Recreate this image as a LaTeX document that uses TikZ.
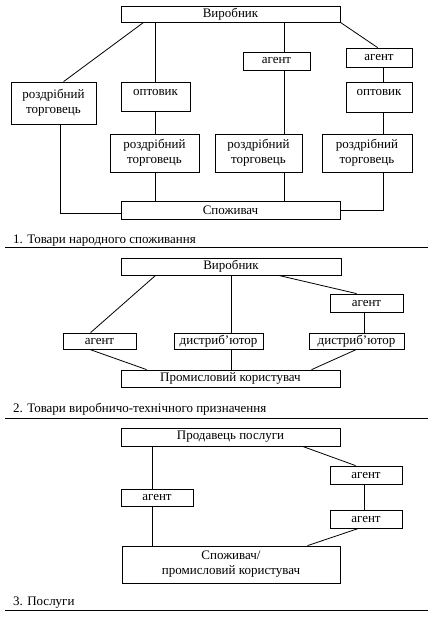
\documentclass[tikz,border=0pt]{standalone}
\usepackage{fontspec}
\setmainfont{Liberation Serif}
\begin{document}
\begin{tikzpicture}[x=1pt,y=-1pt,
  box/.style={draw,line width=0.8pt,inner sep=0pt,align=center,font=\fontsize{13}{15}\selectfont},
  caption/.style={anchor=base west,inner sep=0pt,font=\fontsize{13}{15}\selectfont},
  link/.style={line width=0.8pt},
  rule/.style={line width=1pt}]
\useasboundingbox (0,0) rectangle (435,620);
% guides
\coordinate (g60) at (60,0);
\coordinate (g155) at (155,0);
\coordinate (g284) at (284,0);
\coordinate (g383) at (383,0);
\coordinate (g231) at (231,0);
\coordinate (g364) at (364,0);
\coordinate (g152) at (152,0);
% ---------- section 1
\node[box,minimum width=219pt,minimum height=16pt] (P1) at (230.5,14) {Виробник};
\node[box,minimum width=85pt,minimum height=42pt] (R1) at (53.5,103) {роздрібний\\торговець};
\node[box,minimum width=69pt,text height=14pt,text depth=15pt] (O1) at (155.5,96.5) {оптовик};
\node[box,minimum width=67pt,minimum height=18pt] (A1) at (276.5,61) {агент};
\node[box,minimum width=66pt,minimum height=19pt] (A2) at (379,57.5) {агент};
\node[box,minimum width=66pt,text height=14pt,text depth=16pt] (O2) at (379,97) {оптовик};
\node[box,minimum width=89pt,minimum height=38pt] (R2) at (154.5,153) {роздрібний\\торговець};
\node[box,minimum width=87pt,minimum height=38pt] (R3) at (258.5,153) {роздрібний\\торговець};
\node[box,minimum width=90pt,minimum height=38pt] (R4) at (367,153) {роздрібний\\торговець};
\node[box,minimum width=219pt,minimum height=18pt] (C1) at (230.5,210) {Споживач};
\draw[link] ([xshift=23pt]P1.south west) -- ([xshift=53pt]R1.north west);
\draw[link] (P1.south -| g155) -- (O1.north -| g155);
\draw[link] (P1.south -| g284) -- (A1.north -| g284);
\draw[link] (P1.south east) -- ([xshift=32pt]A2.north west);
\draw[link] (R1.south -| g60) |- ([yshift=-3pt]C1.west);
\draw[link] (O1.south -| g155) -- (R2.north -| g155);
\draw[link] (A1.south -| g284) -- (R3.north -| g284);
\draw[link] (A2.south -| g383) -- (O2.north -| g383);
\draw[link] (O2.south -| g383) -- (R4.north -| g383);
\draw[link] (R2.south -| g155) -- (C1.north -| g155);
\draw[link] (R3.south -| g284) -- (C1.north -| g284);
\draw[link] (R4.south -| g383) |- (C1.east);
\node[caption] (cap1) at (13,243) {1. Товари народного споживання};
\draw[rule] (5,247) -- (428,247);
% ---------- section 2
\node[box,minimum width=220pt,minimum height=17pt] (P2) at (231,266.5) {Виробник};
\node[box,minimum width=73pt,minimum height=16pt] (AL) at (99.5,341) {агент};
\node[box,minimum width=89pt,minimum height=16pt] (D1) at (218.5,341) {дистриб’ютор};
\node[box,minimum width=95pt,minimum height=16pt] (D2) at (356.5,341) {дистриб’ютор};
\node[box,minimum width=73pt,minimum height=18pt] (AR) at (366.5,303) {агент};
\node[box,minimum width=219pt,minimum height=17pt] (U) at (230.5,378.5) {Промисловий користувач};
\draw[link] ([xshift=35pt]P2.south west) -- ([xshift=28pt]AL.north west);
\draw[link] (P2.south -| g231) -- (D1.north -| g231);
\draw[link] ([xshift=158pt]P2.south west) -- ([xshift=27pt]AR.north west);
\draw[link] (AR.south -| g364) -- (D2.north -| g364);
\draw[link] ([xshift=27pt]AL.south west) -- ([xshift=26pt]U.north west);
\draw[link] (D1.south -| g231) -- (U.north -| g231);
\draw[link] ([xshift=48pt]D2.south west) -- ([xshift=191pt]U.north west);
\node[caption] (cap2) at (13,412) {2. Товари виробничо-технічного призначення};
\draw[rule] (5,418) -- (428,418);
% ---------- section 3
\node[box,minimum width=219pt,minimum height=18pt] (S) at (230.5,437) {Продавець послуги};
\node[box,minimum width=72pt,minimum height=17pt] (B1) at (157,497.5) {агент};
\node[box,minimum width=72pt,minimum height=18pt] (B2) at (366,475) {агент};
\node[box,minimum width=72pt,minimum height=18pt] (B3) at (366,519) {агент};
\node[box,minimum width=218pt,minimum height=37pt] (K) at (231,564.5) {Споживач/\\промисловий користувач};
\draw[link] (S.south -| g152) -- (B1.north -| g152);
\draw[link] (B1.south -| g152) -- (K.north -| g152);
\draw[link] ([xshift=182pt]S.south west) -- ([xshift=26pt]B2.north west);
\draw[link] (B2.south -| g364) -- (B3.north -| g364);
\draw[link] ([xshift=29pt]B3.south west) -- ([xshift=186pt]K.north west);
\node[caption] (cap3) at (13,605) {3. Послуги};
\draw[rule] (5,610) -- (428,610);
\end{tikzpicture}
\end{document}
